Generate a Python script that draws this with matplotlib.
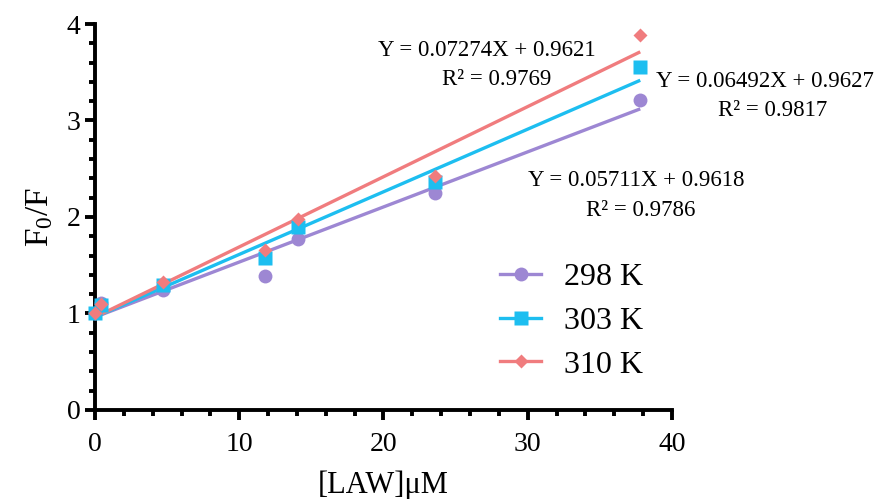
import matplotlib.pyplot as plt
import numpy as np

plt.rcParams["font.family"] = ["Liberation Serif", "DejaVu Serif"]
plt.rcParams["mathtext.fontset"] = "custom"
plt.rcParams["mathtext.rm"] = "Liberation Serif"
plt.rcParams["mathtext.it"] = "Liberation Serif:italic"

# concentration of LAW (uM)
conc = [0, 0.4, 4.7, 11.8, 14.1, 23.6, 37.8]

# F0/F values
f_298 = [1.00, 1.11, 1.24, 1.39, 1.77, 2.25, 3.21]
f_303 = [1.00, 1.09, 1.30, 1.57, 1.90, 2.36, 3.55]
f_310 = [1.00, 1.10, 1.33, 1.66, 1.98, 2.42, 3.89]

# linear fits (slope, intercept, R2) as printed on the chart
fit_298 = (0.05711, 0.9618, 0.9786)
fit_303 = (0.06492, 0.9627, 0.9817)
fit_310 = (0.07274, 0.9621, 0.9769)

labels = ["298 K", "303 K", "310 K"]
colors = ["#9D87D3", "#1DBEF0", "#F07C7E"]
markers = ["o", "s", "D"]
msizes = [10, 10, 7.5]

fig = plt.figure(figsize=(8.76, 4.99), dpi=100)
ax = fig.add_axes([0.1084, 0.1784, 0.6587, 0.7735])

series = [(f_298, fit_298), (f_303, fit_303), (f_310, fit_310)]
handles = []
for idx in [2, 1, 0]:
    ys, (slope, icpt, r2) = series[idx]
    xfit = np.array([conc[0], conc[-1]])
    ax.plot(xfit, slope * xfit + icpt, color=colors[idx], lw=2.4,
            solid_capstyle="butt", zorder=2 + idx * 0.1)
    ax.plot(conc, ys, linestyle="none", marker=markers[idx],
            ms=msizes[idx], color=colors[idx], mec="none", zorder=4 + idx * 0.1,
            clip_on=False)

for idx in range(3):
    h, = ax.plot([], [], color=colors[idx], lw=2.4, marker=markers[idx],
                 ms=msizes[idx], mec="none", label=labels[idx])
    handles.append(h)

ax.set_xlim(0, 40)
ax.set_ylim(0, 4)
ax.set_xticks([0, 10, 20, 30, 40])
ax.set_yticks([0, 1, 2, 3, 4])
ax.set_xticks(np.arange(0, 40.1, 2), minor=True)
ax.set_yticks(np.arange(0, 4.01, 0.2), minor=True)

for s in ["top", "right"]:
    ax.spines[s].set_visible(False)
for s in ["left", "bottom"]:
    ax.spines[s].set_linewidth(2.8)
    ax.spines[s].set_capstyle("projecting")

ax.tick_params(which="major", direction="out", length=7.5, width=2.8,
               labelsize=20, pad=3)
ax.tick_params(axis="x", which="major", pad=8)
ax.tick_params(which="minor", direction="out", length=4, width=2.8)

ax.set_xlabel("[LAW]\u03bcM", fontsize=22, labelpad=10)
ax.set_ylabel("F$_\\mathregular{0}$/F", fontsize=24, labelpad=8)

txt = dict(fontsize=16.5, ha="center", va="center", transform=fig.transFigure)
fig.text(487 / 876, 1 - 50 / 499, "Y = %.5fX + %.4f" % fit_310[:2], **txt)
fig.text(497 / 876, 1 - 80 / 499, "R\u00b2 = %.4f" % fit_310[2], **txt)
fig.text(765 / 876, 1 - 82 / 499, "Y = %.5fX + %.4f" % fit_303[:2], **txt)
fig.text(773 / 876, 1 - 110 / 499, "R\u00b2 = %.4f" % fit_303[2], **txt)
fig.text(636 / 876, 1 - 180 / 499, "Y = %.5fX + %.4f" % fit_298[:2], **txt)
fig.text(641 / 876, 1 - 211 / 499, "R\u00b2 = %.4f" % fit_298[2], **txt)

fig.legend(handles=handles, loc="upper left", bbox_to_anchor=(487 / 876, 1 - 250 / 499),
           frameon=False, fontsize=23, handlelength=1.3, handletextpad=0.7,
           labelspacing=0.45, borderaxespad=0)

fig.savefig("out.png", dpi=100)
